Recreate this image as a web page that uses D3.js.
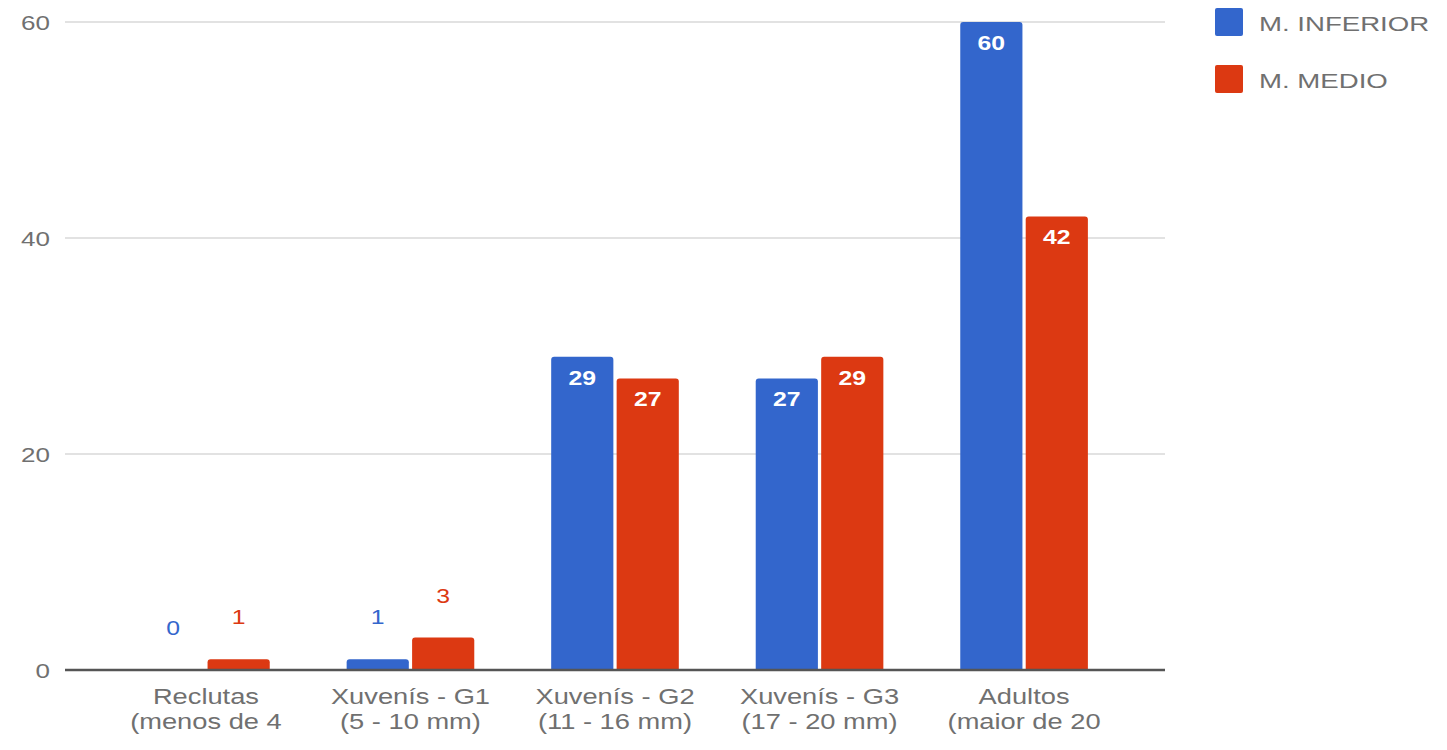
<!DOCTYPE html>
<html><head><meta charset="utf-8">
<script src="https://cdn.jsdelivr.net/npm/d3@7"></script>
<style>body{margin:0;background:#fff;overflow:hidden}text{font-family:"Liberation Sans",Arial,sans-serif}</style>
</head><body><svg id="c" width="1447" height="750"></svg>
<script>
const categories = [
  ["Reclutas","(menos de 4"],
  ["Xuvenís - G1","(5 - 10 mm)"],
  ["Xuvenís - G2","(11 - 16 mm)"],
  ["Xuvenís - G3","(17 - 20 mm)"],
  ["Adultos","(maior de 20"]
];
const seriesNames = ["M. INFERIOR","M. MEDIO"];
const inferior = [0,1,29,27,60];
const medio = [1,3,27,29,42];
const yTicks = [0,20,40,60];
const colors = ["#3366cc","#dc3912"];
const textColor = "#707070";

const svg = d3.select("#c");
const x = d3.scaleBand().domain(d3.range(categories.length)).range([65,1165]).paddingInner(0.376).paddingOuter(0.377);
const x1 = d3.scaleBand().domain([0,1]).range([0,x.bandwidth()]).paddingInner(0.05);
const y = d3.scaleLinear().domain([0,60]).range([670,22]);
const SX = 1.24; // horizontal stretch of text, as in the reference

function stretchedText(sel, fx, fy, sx) {
  return sel.append("g").attr("transform",(d,i)=>`translate(${fx(d,i)},${fy(d,i)}) scale(${sx||SX},1)`).append("text");
}

// gridlines
svg.append("g").selectAll("line").data(yTicks.filter(d=>d>0)).join("line")
  .attr("x1",65).attr("x2",1165).attr("y1",d=>y(d)).attr("y2",d=>y(d))
  .attr("stroke","#e2e2e2").attr("stroke-width",2);
// y labels
stretchedText(svg.append("g").selectAll("g").data(yTicks).join("g"), ()=>50, d=>y(d)+8)
  .attr("text-anchor","end").attr("font-size",21).attr("fill",textColor).text(d=>d);

const series = [inferior, medio];
series.forEach((vals,si)=>{
  const g = svg.append("g");
  g.selectAll("path").data(vals).join("path")
    .attr("fill",colors[si])
    .attr("d",(d,i)=>{
      const x0 = x(i)+x1(si), w = x1.bandwidth(), top = y(d), bot = y(0);
      if (d===0) return "";
      const r = Math.min(3, (bot-top));
      return `M${x0},${bot}V${top+r}Q${x0},${top} ${x0+r},${top}H${x0+w-r}Q${x0+w},${top} ${x0+w},${top+r}V${bot}Z`;
    });
  stretchedText(g.selectAll("g").data(vals).join("g"),
      (d,i)=>x(i)+x1(si)+x1.bandwidth()/2,
      d=> d>=10 ? y(d)+28 : y(d)-35)
    .attr("text-anchor","middle").attr("font-size",20)
    .attr("font-weight",d=>d>=10?"bold":"normal")
    .attr("fill",d=>d>=10?"#fff":colors[si])
    .text(d=>d);
});

// baseline
svg.append("line").attr("x1",65).attr("x2",1165).attr("y1",y(0)).attr("y2",y(0))
  .attr("stroke","#555").attr("stroke-width",2.5);

// category labels
const cl = stretchedText(svg.append("g").selectAll("g").data(categories).join("g"),
    (d,i)=>x(i)+x.bandwidth()/2, ()=>704)
  .attr("text-anchor","middle").attr("font-size",22).attr("fill",textColor);
cl.selectAll("tspan").data(d=>d).join("tspan")
  .attr("x",0).attr("dy",(d,i)=>i===0?0:25).text(d=>d);

// legend
const lg = svg.append("g").selectAll("g").data(seriesNames).join("g")
  .attr("transform",(d,i)=>`translate(1215,${8+i*57})`);
lg.append("rect").attr("width",28).attr("height",28).attr("rx",2).attr("fill",(d,i)=>colors[i]);
lg.append("g").attr("transform",`translate(44,23) scale(1.38,1)`).append("text")
  .attr("font-size",20).attr("fill",textColor).text(d=>d);
</script></body></html>
